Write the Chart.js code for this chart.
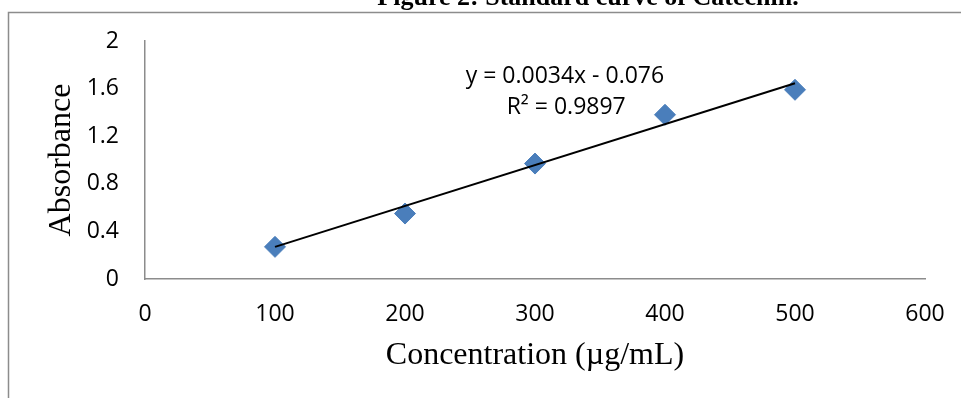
<!DOCTYPE html>
<html>
<head>
<meta charset="utf-8">
<script src="https://cdn.jsdelivr.net/npm/chart.js@4/dist/chart.umd.min.js"></script>
<style>
  html, body {
    margin: 0;
    padding: 0;
    background: #fff;
  }

  #chart-wrapper {
    position: relative;
    width: 961px;
    height: 398px;
  }
</style>
</head>
<body>
<div id="chart-wrapper">
  <canvas id="catechin-chart"></canvas>
</div>
<script>
const concentrations = [100, 200, 300, 400, 500];
const absorbance = [0.27, 0.55, 0.97, 1.38, 1.59];

// trendline end points, as drawn in the picture
const trendX = [100, 500];
const trendY = [0.27, 1.645];

const xTicks = [0, 100, 200, 300, 400, 500, 600];
const yTicks = [0, 0.4, 0.8, 1.2, 1.6, 2];

const titleText = 'Figure 2: Standard curve of Catechin.';
const equationLines = ['y = 0.0034x - 0.076', 'R² = 0.9897'];

class CatechinChart {

  constructor($canvas) {
    this._canvas = $canvas;
    this._chart = null;
  }

  draw() {
    if (this._chart) {
      this._chart.destroy();
    }
    const ctx = this._canvas.getContext('2d');
    this._chart = new Chart(ctx, this.#getChartOptions());
  }

  #decorationsPlugin() {
    return {
      id: 'decorations',
      afterDraw(chart) {
        const ctx = chart.ctx;
        const x = chart.scales.x;
        const y = chart.scales.y;

        ctx.save();

        // outer frame, only top and left edges are visible
        ctx.strokeStyle = '#8c8c8c';
        ctx.lineWidth = 1.5;
        ctx.beginPath();
        ctx.moveTo(8.5, chart.height);
        ctx.lineTo(8.5, 12.5);
        ctx.lineTo(chart.width, 12.5);
        ctx.stroke();

        // figure caption, cut off by the top edge
        ctx.fillStyle = '#000';
        ctx.font = 'bold 26px "Liberation Serif", "Times New Roman", serif';
        ctx.textAlign = 'center';
        ctx.textBaseline = 'alphabetic';
        ctx.fillText(titleText, 588, 5);

        // trendline equation
        ctx.font = '23px "Open Sans", sans-serif';
        ctx.textBaseline = 'middle';
        ctx.fillText(equationLines[0], x.getPixelForValue(323), y.getPixelForValue(1.70));
        ctx.fillText(equationLines[1], x.getPixelForValue(324), y.getPixelForValue(1.44));

        ctx.restore();
      }
    };
  }

  #getChartOptions() {
    const tickFont = {size: 23, family: '"Open Sans", sans-serif'};
    const titleFont = {size: 32, family: '"Liberation Serif", "Times New Roman", serif'};
    const axisColor = '#8c8c8c';

    return {
      type: 'scatter',
      data: {
        datasets: [{
          type: 'line',
          data: trendX.map((v, i) => ({x: v, y: trendY[i]})),
          borderColor: '#000',
          borderWidth: 2,
          pointRadius: 0,
          fill: false
        }, {
          data: concentrations.map((v, i) => ({x: v, y: absorbance[i]})),
          pointStyle: 'rectRot',
          pointRadius: 10.5,
          pointHoverRadius: 10.5,
          backgroundColor: '#4a7ebb',
          borderColor: '#4a7ebb',
          borderWidth: 1
        }]
      },
      options: {
        responsive: true,
        maintainAspectRatio: false,
        animation: false,
        layout: {
          padding: {
            left: 0,
            top: 41,
            right: 36,
            bottom: 0
          }
        },
        scales: {
          x: {
            type: 'linear',
            min: 0,
            max: 600,
            afterBuildTicks: scale => {
              scale.ticks = xTicks.map(v => ({value: v}));
            },
            afterFit: scale => {
              scale.height = 119;
            },
            grid: {
              display: false
            },
            border: {
              display: true,
              color: axisColor,
              width: 1.5
            },
            ticks: {
              padding: 14,
              color: '#000',
              font: tickFont,
              callback: v => String(v)
            },
            title: {
              display: true,
              text: 'Concentration (µg/mL)',
              color: '#000',
              font: titleFont,
              padding: {top: 0, bottom: 23}
            }
          },
          y: {
            min: 0,
            max: 2,
            afterBuildTicks: scale => {
              scale.ticks = yTicks.map(v => ({value: v}));
            },
            afterFit: scale => {
              scale.width = 145;
            },
            grid: {
              display: false
            },
            border: {
              display: true,
              color: axisColor,
              width: 1.5
            },
            ticks: {
              padding: 18,
              color: '#000',
              font: tickFont,
              callback: v => String(v)
            },
            title: {
              display: true,
              text: 'Absorbance',
              color: '#000',
              font: titleFont,
              padding: {top: 42, bottom: 0}
            }
          }
        },
        plugins: {
          legend: {
            display: false
          },
          tooltip: {
            enabled: false
          }
        }
      },
      plugins: [this.#decorationsPlugin()]
    };
  }
}

new CatechinChart(document.getElementById('catechin-chart')).draw();
</script>
</body>
</html>
